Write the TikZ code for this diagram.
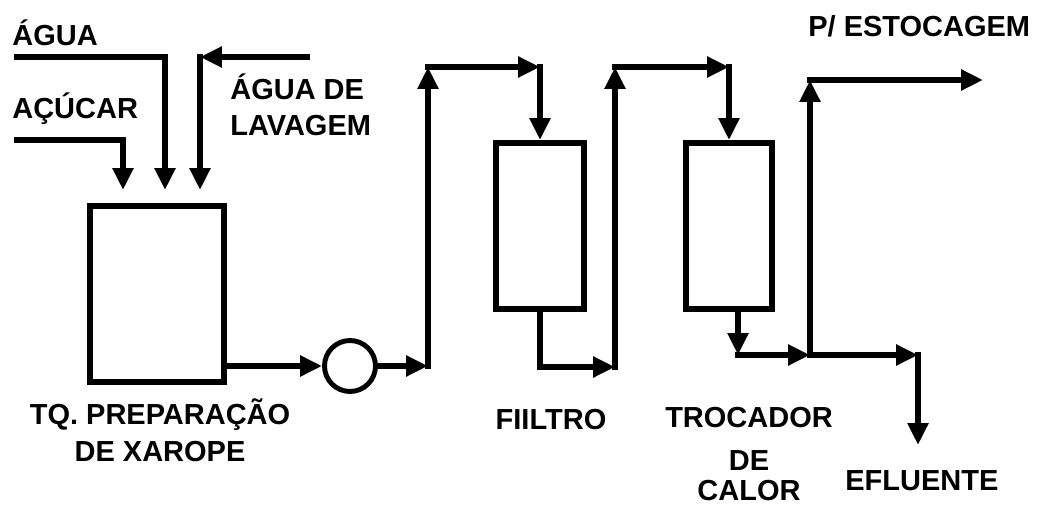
\documentclass[tikz,border=0pt]{standalone}
\usepackage{fontspec}
\setmainfont{Liberation Sans}
\usetikzlibrary{arrows.meta}

\tikzset{
  pipe/.style = {line width = 3.4pt, line cap = rect,
                 -{Triangle[width = .4cm, length = .44cm]}},
  vessel/.style = {draw, line width = 3.4pt, inner sep = 0pt},
  tag/.style = {font = \bfseries\fontsize{16.5}{21}\selectfont, inner sep = 0pt}
}

\begin{document}
\begin{tikzpicture}[x = .02cm, y = -.02cm]
  \useasboundingbox (0,0) rectangle (1037,506);

  % equipamentos
  \node [vessel, minimum width = 2.68cm, minimum height = 3.52cm] (tanque) at (157,294) {};
  \node [vessel, circle, line width = 2.8pt, minimum size = 1.02cm] (bomba) at (350,366) {};
  \node [vessel, minimum width = 1.76cm, minimum height = 3.32cm] (filtro) at (540,226) {};
  \node [vessel, minimum width = 1.72cm, minimum height = 3.32cm] (trocador) at (729,226) {};

  % pontos das linhas
  \coordinate (agua) at (17,57);
  \coordinate (acucar) at (17,140);
  \coordinate (lavagem) at (307,57);
  \coordinate (lav-canto) at (200,57);
  \coordinate (in-acucar) at (123,190);
  \coordinate (in-agua) at (165,190);
  \coordinate (in-lavagem) at (200,190);
  \coordinate (sobe1-base) at (428,366);
  \coordinate (sobe1-topo) at (428,67);
  \coordinate (f-canto) at (540,67);
  \coordinate (sobe2-base) at (615,367);
  \coordinate (sobe2-topo) at (615,67);
  \coordinate (t-canto) at (729,67);
  \coordinate (t-saida) at (738,355);
  \coordinate (juncao) at (810,355);
  \coordinate (sobe3-topo) at (810,80);
  \coordinate (estocagem) at (983,80);
  \coordinate (e-canto) at (918,355);
  \coordinate (efluente) at (918,445);

  % entradas do tanque
  \draw [pipe] (acucar) -| (in-acucar);
  \draw [pipe] (agua) -| (in-agua);
  \draw [pipe] (lavagem) -- (lav-canto);
  \draw [pipe] (lav-canto) -- (in-lavagem);

  % tanque -> bomba -> filtro
  \draw [pipe] (tanque.east |- bomba) -- (bomba);
  \draw [pipe] (bomba) -- (sobe1-base);
  \draw [pipe] (sobe1-base) -- (sobe1-topo);
  \draw [pipe] (sobe1-topo) -- (f-canto);
  \draw [pipe] (f-canto) -- (filtro);

  % filtro -> trocador
  \draw [pipe] (filtro) |- (sobe2-base);
  \draw [pipe] (sobe2-base) -- (sobe2-topo);
  \draw [pipe] (sobe2-topo) -- (t-canto);
  \draw [pipe] (t-canto) -- (trocador);

  % saidas
  \draw [pipe] (trocador.south -| t-saida) -- (t-saida);
  \draw [pipe] (t-saida) -- (juncao);
  \draw [pipe] (juncao) -- (sobe3-topo);
  \draw [pipe] (sobe3-topo) -- (estocagem);
  \draw [pipe] (juncao) -- (e-canto);
  \draw [pipe] (e-canto) -- (efluente);

  % textos
  \node [tag, anchor = base west] (l-agua) at (12,46) {ÁGUA};
  \node [tag, anchor = base west] (l-acucar) at (12,119) {AÇÚCAR};
  \node [tag, anchor = north west, align = left] (l-lavagem) at (230,73) {ÁGUA DE\\LAVAGEM};
  \node [tag, anchor = north, align = center] (l-tanque) at (160,398) {TQ. PREPARAÇÃO\\DE XAROPE};
  \node [tag, anchor = base] (l-filtro) at (551,429) {FIILTRO};
  \node [tag, anchor = north, align = center] (l-trocador) at (749,407) {TROCADOR\\[3.4pt]DE\\[-4pt]CALOR};
  \node [tag, anchor = base west] (l-efluente) at (845,490) {EFLUENTE};
  \node [tag, anchor = base west] (l-estocagem) at (808,37) {P/ ESTOCAGEM};
\end{tikzpicture}
\end{document}
